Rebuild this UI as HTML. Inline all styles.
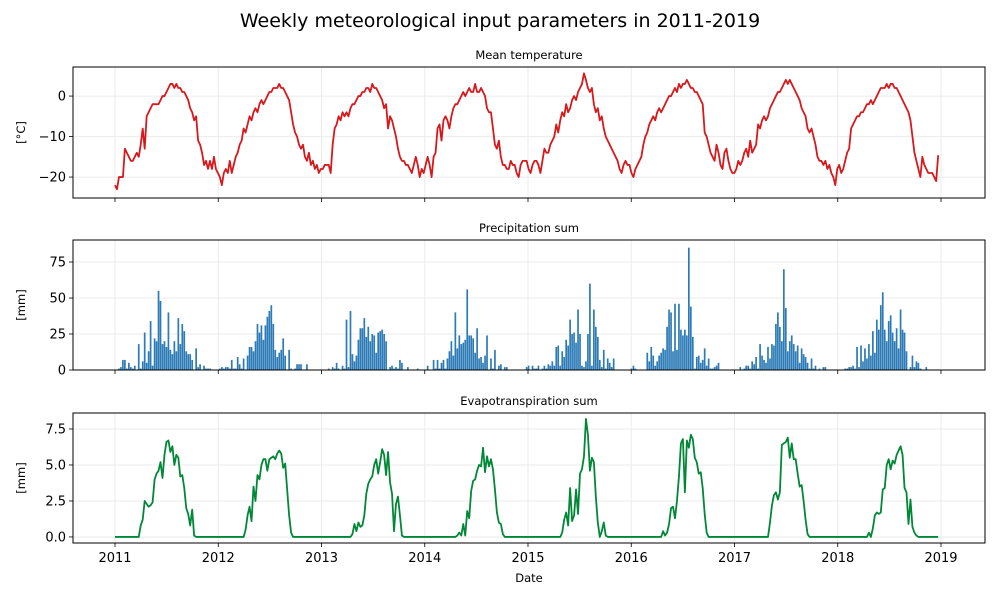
<!DOCTYPE html>
<html><head><meta charset="utf-8"><style>
body{margin:0;background:#fff;font-family:"DejaVu Sans","Liberation Sans",sans-serif}
svg text{font-family:"DejaVu Sans","Liberation Sans",sans-serif;fill:#000}
</style></head><body>
<svg id="c" width="1000" height="600" viewBox="0 0 1000 600" xmlns="http://www.w3.org/2000/svg">
<text x="500" y="27" font-size="19" text-anchor="middle">Weekly meteorological input parameters in 2011-2019</text>
</svg>
<script>
const temp2011=[-22,-23,-20,-20,-20,-13,-14,-15,-16,-16,-15,-14,-15,-12,-8,-13,-5,-4,-3,-2,-2,-2,-2,-1,0,0,1,2,3,3,2,3,2,2,1,1,0,-1,-3,-4,-6,-5,-11,-12,-14,-17,-16,-18,-16,-18,-15,-18];
const temp2012=[-19,-20,-22,-19,-18,-19,-16,-19,-17,-15,-14,-12,-11,-8,-9,-7,-5,-6,-4,-3,-4,-2,-1,-2,-1,0,1,1,2,2,2,3,2,2,1,0,-1,-4,-7,-9,-10,-12,-13,-12,-15,-16,-14,-17,-16,-18,-17,-19];
const temp2013=[-18,-18,-17,-17,-17,-19,-12,-8,-7,-5,-6,-4,-5,-4,-5,-3,-2,-2,-1,0,0,1,1,2,2,1,3,2,2,1,0,-1,-3,-2,-8,-5,-6,-8,-10,-13,-15,-16,-16,-17,-17,-18,-19,-17,-15,-17,-20,-18];
const temp2014=[-19,-17,-15,-17,-20,-15,-14,-8,-7,-11,-6,-5,-6,-8,-5,-3,-2,-2,-1,0,1,0,1,2,1,1,3,1,1,2,1,0,-3,-4,-4,-8,-12,-13,-11,-15,-17,-17,-18,-18,-16,-17,-17,-19,-20,-17,-16,-16];
const temp2015=[-16,-18,-19,-17,-16,-16,-17,-19,-16,-13,-14,-14,-12,-11,-10,-7,-9,-6,-4,-5,-2,-4,-3,-1,0,-1,1,2,3,5.6,4,2,1,2,-2,-4,-3,-6,-5,-8,-10,-11,-12,-13,-14,-15,-16,-18,-19,-17,-16,-17];
const temp2016=[-17,-19,-20,-18,-17,-16,-15,-12,-10,-9,-7,-6,-5,-6,-4,-3,-4,-3,-2,-1,0,0,1,2,1,3,2,3,3,4,3,2,2,1,1,0,-1,-2,-9,-10,-12,-14,-15,-16,-12,-14,-17,-18,-14,-13,-16,-18];
const temp2017=[-19,-19,-18,-16,-17,-16,-14,-13,-15,-11,-14,-13,-12,-7,-8,-6,-5,-6,-5,-3,-2,-1,0,1,1,2,3,4,3,4,3,2,1,0,-1,-3,-4,-5,-8,-9,-8,-10,-12,-15,-16,-16,-17,-16,-18,-17,-19,-20];
const temp2018=[-22,-18,-17,-19,-18,-16,-14,-13,-8,-7,-6,-5,-5,-4,-4,-3,-2,-2,-1,-2,-1,0,1,2,2,2,3,2,3,3,2,2,1,0,-1,-2,-3,-4,-6,-10,-14,-16,-18,-20,-15,-17,-18,-19,-19,-19,-20,-21];
const tempLast=[-14.6];
const prec2011=[0,0,1,2,7,7,1,5,2,1,3,0,18,1,6,26,5,13,34,3,22,20,55,48,18,20,16,40,14,11,20,13,36,18,32,27,13,11,11,7,0,15,2,4,0,3,1,1,1,0,0,0];
const prec2012=[0,1,2,1,2,2,1,7,1,1,9,4,1,8,0,10,16,16,13,20,32,26,31,21,31,37,41,45,32,14,9,12,14,22,10,0,14,1,0,1,4,4,4,0,0,4,0,0,0,0,0,0];
const prec2013=[0,0,0,0,1,0,2,1,5,1,0,3,1,35,2,41,11,6,10,21,29,29,36,23,30,20,25,24,12,26,27,28,25,20,0,2,3,1,2,1,7,5,0,0,2,0,0,0,0,1,0,0];
const prec2014=[0,0,3,0,0,7,1,7,1,5,7,1,8,13,20,10,40,15,24,18,19,21,56,24,24,22,12,29,8,9,5,10,24,0,8,1,14,0,3,4,0,2,2,0,0,0,0,0,0,0,0,0];
const prec2015=[2,3,0,3,1,1,3,0,1,3,1,4,3,6,3,16,17,3,13,9,21,17,35,25,26,19,42,25,3,2,6,25,60,3,42,30,23,7,2,14,1,8,5,2,8,0,0,0,0,0,0,0];
const prec2016=[0,1,3,1,0,0,0,0,0,12,6,16,10,3,6,10,12,15,14,30,42,40,13,46,14,46,28,24,28,24,85,44,23,1,9,10,5,7,15,3,8,1,1,2,3,5,0,0,0,0,0,0];
const prec2017=[0,0,0,0,2,0,1,3,3,1,6,4,9,1,18,10,7,5,16,8,18,17,32,40,30,20,70,43,13,20,24,18,13,17,5,15,11,9,5,1,8,1,3,0,1,0,2,2,0,0,0,0];
const prec2018=[0,0,0,0,0,1,1,2,2,3,1,16,2,17,6,15,8,18,10,27,12,35,28,45,54,28,20,34,38,26,20,29,15,42,28,26,13,0,2,10,2,6,5,1,0,0,2,0,0,0,0,0];
const precLast=[0];
const Z=n=>Array(n).fill(0);
const evap2011=[...Z(13),0.8,1.2,2.5,2.3,2.1,2.2,2.4,4.0,4.4,4.6,5.2,4.1,5.7,6.6,6.7,5.9,6.3,5.0,5.7,5.5,4.2,4.3,3.4,2.0,1.6,0.8,1.9,0.1,...Z(11)];
const evap2012=[...Z(14),0.5,1.5,2.1,1.1,3.5,2.5,4.3,4.0,5.0,5.4,5.4,4.6,5.4,5.5,5.6,5.4,5.8,6.0,5.8,4.8,5.1,3.3,1.5,0.3,...Z(14)];
const evap2013=[...Z(16),0.2,0.9,0.4,1.0,0.7,0.8,1.5,3.0,3.7,4.0,4.2,5.0,5.4,4.4,5.2,6.1,5.7,4.3,5.9,3.8,3.0,0.4,2.3,2.8,1.5,0.1,...Z(10)];
const evap2014=[...Z(17),0.1,0.3,0.1,0.9,0.1,1.8,1.3,3.2,3.9,4.0,4.6,5.0,4.9,6.2,4.5,5.6,4.9,5.4,4.7,3.3,1.7,1.0,0.9,0.2,...Z(11)];
const evap2015=[...Z(18),0.3,1.2,1.7,0.8,3.4,1.1,1.5,3.3,1.6,4.4,4.7,5.6,8.2,7.1,4.6,5.5,5.2,2.8,1.0,0.0,0.4,1.0,0.1,...Z(11)];
const evap2016=[...Z(17),0.4,0.1,0.3,0.9,2.0,2.1,1.3,2.5,4.2,6.5,6.8,3.1,6.7,6.2,7.1,6.8,5.5,5.2,4.4,4.5,3.4,1.6,0.3,...Z(12)];
const evap2017=[...Z(19),1.0,2.2,2.9,3.1,2.6,3.1,6.4,6.5,6.6,6.9,5.5,6.5,5.4,5.4,4.4,3.5,3.6,2.5,1.2,0.2,...Z(13)];
const evap2018=[...Z(17),0.3,0.0,0.6,1.5,1.7,1.6,1.7,3.3,3.4,5.0,5.4,4.7,5.3,5.1,5.7,6.0,6.3,5.7,3.4,3.1,0.9,2.6,0.7,0.3,0.1,...Z(10)];
const evapLast=[0];
const yearTicks=[2011,2012,2013,2014,2015,2016,2017,2018,2019];
const tempTicks=[0,-10,-20];
const precTicks=[0,25,50,75];
const evapTicks=[0,2.5,5.0,7.5];

const temp=[].concat(temp2011,temp2012,temp2013,temp2014,temp2015,temp2016,temp2017,temp2018,tempLast);
const prec=[].concat(prec2011,prec2012,prec2013,prec2014,prec2015,prec2016,prec2017,prec2018,precLast);
const evap=[].concat(evap2011,evap2012,evap2013,evap2014,evap2015,evap2016,evap2017,evap2018,evapLast);

const NS="http://www.w3.org/2000/svg";
const svg=document.getElementById('c');
function mk(tag,attrs,parent){const e=document.createElementNS(NS,tag);for(const k in attrs)e.setAttribute(k,attrs[k]);(parent||svg).appendChild(e);return e;}
const L=73,R=985;
const xYear=y=>115+(y-2011)*103.25;
const xWeek=i=>xYear(2011+i*7/365.25);
const panels=[
 {name:'temperature',title:'Mean temperature',top:67,bot:198,min:-25.17,max:7.18,ticks:tempTicks,label:'[°C]',fmt:v=>v<0?'\u2212'+(-v):String(v)},
 {name:'precipitation',title:'Precipitation sum',top:240,bot:370,min:0,max:90.3,ticks:precTicks,label:'[mm]',fmt:v=>String(v)},
 {name:'evapotranspiration',title:'Evapotranspiration sum',top:413,bot:543,min:-0.42,max:8.61,ticks:evapTicks,label:'[mm]',fmt:v=>v.toFixed(1)}
];
panels.forEach((p,pi)=>{
 const g=mk('g',{});
 
 
 const yS=v=>p.bot-(v-p.min)/(p.max-p.min)*(p.bot-p.top);
 p.yS=yS;p.g=g;
 yearTicks.forEach(t=>{const l=mk('line',{x1:xYear(t),x2:xYear(t),y1:p.top,y2:p.bot,stroke:'#ebebeb','stroke-width':1},g);
  });
 p.ticks.forEach(t=>{const l=mk('line',{x1:L,x2:R,y1:yS(t),y2:yS(t),stroke:'#ebebeb','stroke-width':1},g);
  
  const tk=mk('line',{x1:L-4,x2:L,y1:yS(t),y2:yS(t),stroke:'#000','stroke-width':0.8},g);
  
  const tx=mk('text',{x:L-7,y:yS(t)+4.5,'font-size':13,'text-anchor':'end'},g);tx.textContent=p.fmt(t);
  });
 yearTicks.forEach(t=>{const tk=mk('line',{x1:xYear(t),x2:xYear(t),y1:p.bot,y2:p.bot+4,stroke:'#000','stroke-width':0.8},g);
  });
 const ti=mk('text',{x:(L+R)/2,y:p.top-8,'font-size':11.5,'text-anchor':'middle'},g);ti.textContent=p.title;
 
 const yl=mk('text',{x:0,y:0,'font-size':11.5,'text-anchor':'middle',transform:`translate(${L-48},${(p.top+p.bot)/2}) rotate(-90)`},g);yl.textContent=p.label;
 
});
{const p=panels[0];const d=temp.map((v,i)=>(i?'L':'M')+xWeek(i).toFixed(2)+' '+p.yS(v).toFixed(2)).join(' ');
 const l=mk('path',{d:d,fill:'none',stroke:'#d7191c','stroke-width':1.8,'stroke-linejoin':'round'},p.g);
 }
{const p=panels[1];const bw=6/365.25*103.25;
 prec.forEach((v,i)=>{const y=p.yS(v),y0=p.yS(0);const b=mk('rect',{x:xWeek(i)-bw/2,y:y,width:bw,height:Math.max(0,y0-y),fill:'#2c7bb6'},p.g);
  });}
{const p=panels[2];const d=evap.map((v,i)=>(i?'L':'M')+xWeek(i).toFixed(2)+' '+p.yS(v).toFixed(2)).join(' ');
 const l=mk('path',{d:d,fill:'none',stroke:'#008837','stroke-width':1.8,'stroke-linejoin':'round'},p.g);
 }
panels.forEach(p=>{const f=mk('rect',{x:L,y:p.top,width:R-L,height:p.bot-p.top,fill:'none',stroke:'#000','stroke-width':1},p.g);
 });
yearTicks.forEach(t=>{const tx=mk('text',{x:xYear(t),y:562,'font-size':13,'text-anchor':'middle'});tx.textContent=t;
 });
const xt=mk('text',{x:(L+R)/2,y:582,'font-size':11.5,'text-anchor':'middle'});xt.textContent='Date';


</script>
</body></html>
